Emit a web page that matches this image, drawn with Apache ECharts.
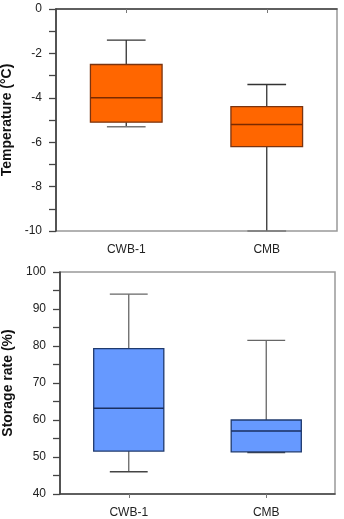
<!DOCTYPE html>
<html>
<head>
<meta charset="utf-8">
<script src="https://cdn.jsdelivr.net/npm/echarts@6/dist/echarts.min.js"></script>
<style>
  html, body { margin: 0; padding: 0; background: #fff; }
  #chart { width: 344px; height: 519px; }
</style>
</head>
<body>
<div id="chart"></div>
<script>
// categories shared by both panels
const categories = ['CWB-1', 'CMB']

// temperature (°C) box stats
const tempMin = [-5.3, -10]
const tempQ1 = [-5.1, -6.2]
const tempMedian = [-4.0, -5.2]
const tempQ3 = [-2.5, -4.4]
const tempMax = [-1.4, -3.4]

// storage rate (%) box stats
const rateMin = [46, 51.2]
const rateQ1 = [51.6, 51.4]
const rateMedian = [63.2, 57]
const rateQ3 = [79.3, 60]
const rateMax = [94, 81.5]

const FONT = '"Liberation Sans", Arial, sans-serif'

function rows(mins, q1s, meds, q3s, maxs) {
  return categories.map((c, i) => [i, mins[i], q1s[i], meds[i], q3s[i], maxs[i]])
}

function boxRenderer(style) {
  return function(params, api) {
    const x = api.value(0)
    const pMin = api.coord([x, api.value(1)])
    const pQ1 = api.coord([x, api.value(2)])
    const pMed = api.coord([x, api.value(3)])
    const pQ3 = api.coord([x, api.value(4)])
    const pMax = api.coord([x, api.value(5)])
    const bw = api.size([1, 0])[0] * 0.51
    const cap = bw * 0.27
    const cx = pMed[0]
    const wStyle = { stroke: style.whisker, lineWidth: 1.3 }
    return {
      type: 'group',
      children: [
        { type: 'line', shape: { x1: cx, y1: pQ3[1], x2: cx, y2: pMax[1] }, style: wStyle },
        { type: 'line', shape: { x1: cx - cap, y1: pMax[1], x2: cx + cap, y2: pMax[1] }, style: wStyle },
        { type: 'line', shape: { x1: cx, y1: pQ1[1], x2: cx, y2: pMin[1] }, style: wStyle },
        { type: 'line', shape: { x1: cx - cap, y1: pMin[1], x2: cx + cap, y2: pMin[1] }, style: { stroke: style.capLow || style.whisker, lineWidth: 1.5 } },
        {
          type: 'rect',
          shape: { x: cx - bw / 2, y: pQ3[1], width: bw, height: pQ1[1] - pQ3[1] },
          style: { fill: style.fill, stroke: style.border, lineWidth: 1.3 }
        },
        { type: 'line', shape: { x1: cx - bw / 2, y1: pMed[1], x2: cx + bw / 2, y2: pMed[1] }, style: { stroke: style.median, lineWidth: 1.5 } }
      ]
    }
  }
}

function yAxisCfg(gridIndex, name, min, max, interval, nameGap) {
  return {
    type: 'value',
    gridIndex: gridIndex,
    min: min,
    max: max,
    interval: interval,
    name: name,
    nameLocation: 'middle',
    nameGap: nameGap,
    nameTextStyle: { fontFamily: FONT, fontSize: 14, fontWeight: 'bold', color: '#111' },
    axisLine: { show: true, lineStyle: { color: '#333', width: 1.5 } },
    axisTick: { show: true, length: 7, lineStyle: { color: '#444', width: 1.3 } },
    minorTick: { show: true, splitNumber: 2, length: 7, lineStyle: { color: '#444', width: 1.3 } },
    axisLabel: { fontFamily: FONT, fontSize: 12, color: '#222', margin: 14 },
    splitLine: { show: false }
  }
}

function xAxisCfg(gridIndex) {
  return {
    type: 'category',
    gridIndex: gridIndex,
    data: categories,
    boundaryGap: true,
    axisLine: { show: true, lineStyle: { color: '#444', width: 1.5 } },
    axisTick: { show: true, alignWithLabel: true, length: 4, lineStyle: { color: '#777' } },
    axisLabel: { fontFamily: FONT, fontSize: 12, color: '#222', margin: 13 },
    splitLine: { show: false }
  }
}

const chart = echarts.init(document.getElementById('chart'))
chart.setOption({
  backgroundColor: '#fff',
  animation: false,
  grid: [
    { left: 56, right: 7, top: 9, height: 222, show: true, borderColor: '#999', borderWidth: 1.5, outerBoundsMode: 'none', containLabel: false },
    { left: 60, right: 9, top: 272, height: 222, show: true, borderColor: '#999', borderWidth: 1.5, outerBoundsMode: 'none', containLabel: false }
  ],
  xAxis: [xAxisCfg(0), xAxisCfg(1)],
  yAxis: [
    yAxisCfg(0, 'Temperature (°C)', -10, 0, 2, 41),
    yAxisCfg(1, 'Storage rate (%)', 40, 100, 10, 44)
  ],
  series: [
    {
      type: 'custom',
      xAxisIndex: 0,
      yAxisIndex: 0,
      renderItem: boxRenderer({ fill: '#ff6600', border: '#7a3410', median: '#7a2a00', whisker: '#333', capLow: '#777' }),
      encode: { x: 0, y: [1, 2, 3, 4, 5] },
      data: rows(tempMin, tempQ1, tempMedian, tempQ3, tempMax)
    },
    {
      type: 'custom',
      xAxisIndex: 1,
      yAxisIndex: 1,
      renderItem: boxRenderer({ fill: '#6699ff', border: '#1f3a6e', median: '#1a2f60', whisker: '#666', capLow: '#444' }),
      encode: { x: 0, y: [1, 2, 3, 4, 5] },
      data: rows(rateMin, rateQ1, rateMedian, rateQ3, rateMax)
    }
  ]
})
</script>
</body>
</html>
